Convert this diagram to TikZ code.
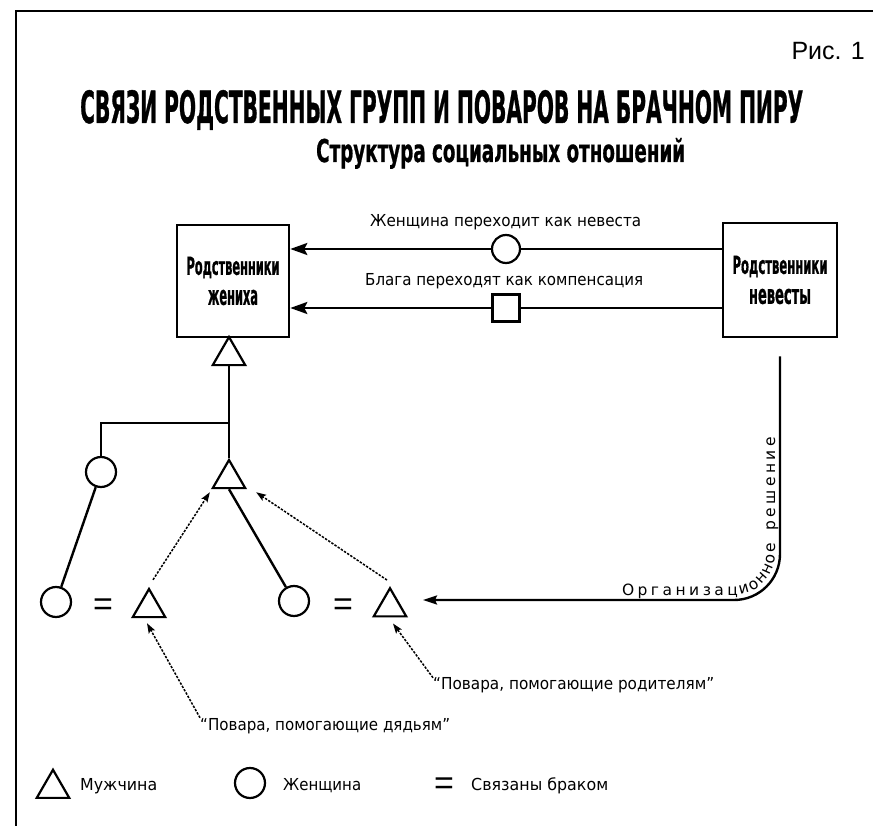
\documentclass[tikz,border=0pt]{standalone}
\usepackage{fontspec}
\usepackage{graphicx}
\usetikzlibrary{arrows.meta,shapes.geometric,decorations.text,calc}
\setmainfont{DejaVu Sans}
\newfontfamily\condfont[FakeBold=1]{DejaVu Sans Condensed Bold}
\newfontfamily\arialfont{Liberation Sans}
\newcommand\orgfont{\fontsize{15.5}{16}\selectfont}
\begin{document}
\begin{tikzpicture}[x=1pt,y=-1pt,
  lw/.style={line width=2.4pt},
  box/.style={draw, line width=2.6pt, inner sep=0pt, align=center,
    font=\condfont\fontsize{20}{30}\selectfont},
  tri/.style={draw, regular polygon, regular polygon sides=3, minimum size=37.5pt,
    inner sep=0pt, line width=2.2pt},
  wom/.style={draw, circle, minimum size=30pt, inner sep=0pt, line width=2.2pt},
  marr/.style={line width=2.4pt, -{Stealth[length=17pt,width=12pt,inset=3pt]}},
  darr/.style={line width=1.5pt, dash pattern=on 2.4pt off 1.4pt,
    -{Stealth[length=10pt,width=7pt,inset=2pt]}},
  lab/.style={inner sep=0pt, anchor=base west, font=\fontsize{16.5}{18}\selectfont},
  eq/.style={inner sep=0pt, font=\arialfont\fontsize{34}{34}\selectfont}
]
\useasboundingbox (0,0) rectangle (873,826);
% frame
\draw[line width=2.4pt] (873,11) -- (16,11) -- (16,826);

% headings
\node[anchor=base east, inner sep=0pt, font=\arialfont\fontsize{25}{25}\selectfont] (fig) at (865,60) {Рис. 1};
\node[anchor=base west, inner sep=0pt, font=\condfont\fontsize{45}{45}\selectfont] (title) at (80,123)
  {\resizebox{723pt}{33pt}{СВЯЗИ РОДСТВЕННЫХ ГРУПП И ПОВАРОВ НА БРАЧНОМ ПИРУ}};
\node[anchor=base west, inner sep=0pt, font=\condfont\fontsize{33}{33}\selectfont] (subtitle) at (316,162)
  {\resizebox{369pt}{24pt}{Структура социальных отношений}};

% boxes
\node[box, minimum width=112pt, minimum height=112pt] (gb) at (233,281)
  {\resizebox{93pt}{18pt}{Родственники}\\\resizebox{50pt}{15pt}{жениха}};
\node[box, minimum width=114pt, minimum height=114pt] (bb) at (780,280)
  {\resizebox{95pt}{18pt}{Родственники}\\\resizebox{62pt}{15pt}{невесты}};

% exchange arrows
\node[wom, minimum size=28pt] (c1) at (506,249) {};
\node[draw, line width=2.2pt, minimum size=27pt, inner sep=0pt] (sq) at (506,308) {};
\draw[lw] (bb.west |- c1) -- (c1);
\draw[marr] (c1) -- (gb.east |- c1);
\draw[lw] (bb.west |- sq) -- (sq);
\draw[marr] (sq) -- (gb.east |- sq);
\node[lab] (l1) at (370,227) {\resizebox{271pt}{\height}{Женщина переходит как невеста}};
\node[lab] (l2) at (365,286) {\resizebox{278pt}{\height}{Блага переходят как компенсация}};

% kinship
\node[tri] (t0) at (229,355.75) {};
\node[tri] (t1) at (229,478.75) {};
\node[wom] (c2) at (101,472) {};
\node[wom] (c3) at (56,602) {};
\node[wom] (c4) at (294,601) {};
\node[tri] (t2) at (149,607.75) {};
\node[tri] (t3) at (390,607) {};
\node[eq] (e1) at (103,607) {=};
\node[eq] (e2) at (343,607) {=};
\coordinate (j) at (229,423);

\draw[lw] (t0.south) -- (t1.north);
\draw[lw] (j) -| (c2.north);
\draw[lw] (c2) -- (c3);
\draw[lw] (t1.south) -- (c4);

% cooks
\draw[darr] ([shift={(4,-7)}]t2.north) -- ([shift={(-1,3)}]t1.corner 2);
\draw[darr] ([shift={(-3,-6)}]t3.north) -- ([shift={(9,3)}]t1.corner 3);
\node[lab] (l3) at (433,689) {\resizebox{281pt}{\height}{“Повара, помогающие родителям”}};
\node[lab] (l4) at (200,730) {\resizebox{250pt}{\height}{“Повара, помогающие дядьям”}};
\draw[darr] ([shift={(0,1)}]l3.north west) -- ([shift={(3,6)}]t3.south);
\draw[darr] (l4.north west) -- ([shift={(-2,5)}]t2.south);

% organisational decision
\coordinate (oe) at (423,600);
\draw[lw, rounded corners=46pt, -{Stealth[length=14pt,width=9pt,inset=2pt]}]
  ([shift={(0,18)}]bb.south) |- (oe);
\path[rounded corners=46pt, decorate, decoration={text along path,
  text={|\orgfont|Организационное решение}, text align={fit to path}, raise=5pt}]
  (622,600) -| (780,437);

% legend
\node[tri] (lt) at (53,788.5) {};
\node[lab] (lm) at (80,790) {\resizebox{77pt}{\height}{Мужчина}};
\node[wom] (lc) at (250,783) {};
\node[lab] (lwn) at (283,790) {\resizebox{78pt}{\height}{Женщина}};
\node[eq] (le) at (444,786) {=};
\node[lab] (lb) at (471,790) {\resizebox{137pt}{\height}{Связаны браком}};
\end{tikzpicture}
\end{document}
